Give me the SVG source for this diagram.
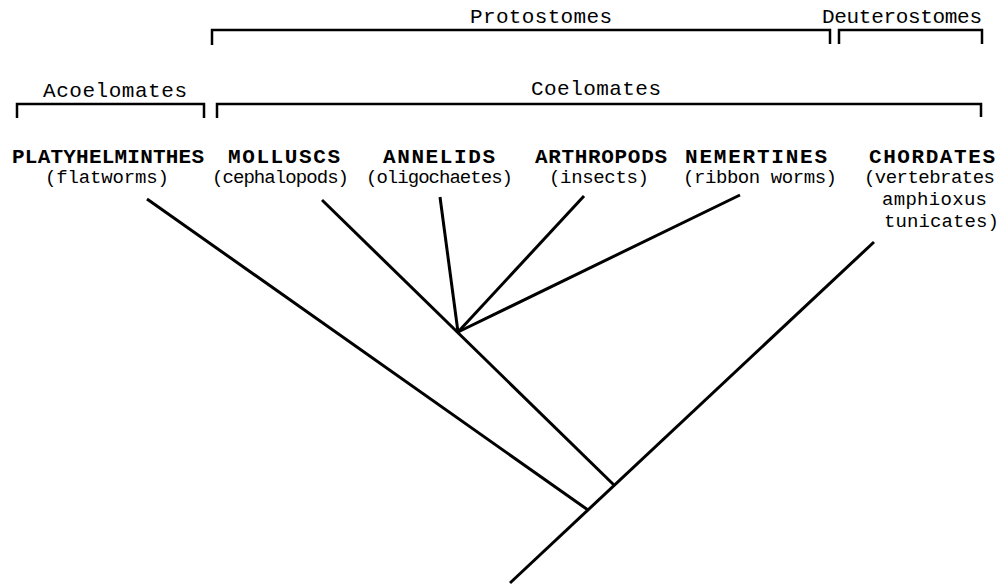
<svg xmlns="http://www.w3.org/2000/svg" width="999" height="586" viewBox="0 0 999 586">
<style>
.hdr{font-family:"Liberation Mono","Courier New",monospace;font-size:21px;fill:#000}
.grp{font-family:"Liberation Mono","Courier New",monospace;font-size:21px;font-weight:bold;fill:#000}
.sub{font-family:"Liberation Mono","Courier New",monospace;font-size:19px;fill:#000}
.br{fill:none;stroke:#000;stroke-width:2.5}
.br2{stroke:#000;stroke-width:3;stroke-linecap:butt}
</style>
<rect width="999" height="586" fill="#fff"/>
<g id="brackets">
<text class="hdr" x="470" y="23" textLength="142">Protostomes</text>
<path class="br" d="M212,45 V30 H830 V44"/>
<text class="hdr" x="822" y="23" textLength="160">Deuterostomes</text>
<path class="br" d="M839,44 V30 H982 V44"/>
<text class="hdr" x="43" y="97" textLength="144">Acoelomates</text>
<path class="br" d="M17,118 V104 H204 V118"/>
<text class="hdr" x="531" y="95" textLength="130">Coelomates</text>
<path class="br" d="M217,118 V104 H981 V117"/>
</g>
<g id="platyhelminthes">
<text class="grp" x="12" y="163" textLength="192">PLATYHELMINTHES</text>
<text class="sub" x="45" y="183" textLength="124">(flatworms)</text>
</g>
<g id="molluscs">
<text class="grp" x="228" y="163" textLength="112">MOLLUSCS</text>
<text class="sub" x="212" y="183" textLength="137">(cephalopods)</text>
</g>
<g id="annelids">
<text class="grp" x="383" y="163" textLength="112">ANNELIDS</text>
<text class="sub" x="366" y="183" textLength="147">(oligochaetes)</text>
</g>
<g id="arthropods">
<text class="grp" x="535" y="163" textLength="132">ARTHROPODS</text>
<text class="sub" x="549" y="183" textLength="100">(insects)</text>
</g>
<g id="nemertines">
<text class="grp" x="685" y="163" textLength="142">NEMERTINES</text>
<text class="sub" x="683" y="183" textLength="154">(ribbon worms)</text>
</g>
<g id="chordates">
<text class="grp" x="869" y="163" textLength="126">CHORDATES</text>
<text class="sub" x="864" y="183" textLength="131">(vertebrates</text>
<text class="sub" x="882" y="205" textLength="105">amphioxus</text>
<text class="sub" x="884" y="227" textLength="115">tunicates)</text>
</g>
<g id="connectors">
<line class="br2" x1="510" y1="583" x2="874" y2="242"/>
<line class="br2" x1="147" y1="199" x2="588" y2="510"/>
<line class="br2" x1="322" y1="200" x2="615" y2="486"/>
<line class="br2" x1="440" y1="197" x2="458" y2="332"/>
<line class="br2" x1="584" y1="196" x2="458" y2="332"/>
<line class="br2" x1="740" y1="195" x2="458" y2="332"/>
</g>
</svg>
